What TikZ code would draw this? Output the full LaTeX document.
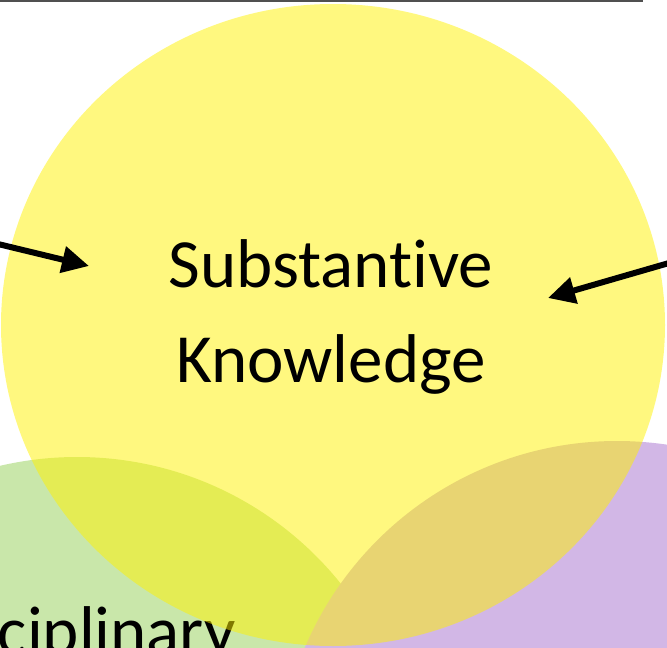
\documentclass[tikz,border=0pt]{standalone}
\usepackage{fontspec}
\setmainfont{Carlito}[Ligatures=NoCommon]
\usetikzlibrary{arrows.meta}
\usetikzlibrary{positioning}
\definecolor{discgreen}{RGB}{201,231,170}
\definecolor{skillpurple}{RGB}{210,183,230}
\definecolor{rulegray}{RGB}{80,80,80}

\begin{document}
\begin{tikzpicture}[x=1pt,y=-1pt]
\tikzset{knowarrow/.style={line width=6pt,-{Triangle[length=27pt,width=26pt]}},
bigtext/.style={font=\fontsize{69}{95}\selectfont,align=center,inner sep=0pt}}
\useasboundingbox (0,0) rectangle (667,648);
\clip (0,0) rectangle (667,648);
\fill[discgreen] (77,795) circle (338pt);
\fill[skillpurple] (617,780) circle (339pt);
\node[bigtext,anchor=base east](disc) at (236,654){Disciplinary};
\fill[yellow,fill opacity=0.5] (333,325) ellipse (332pt and 321pt);
\draw[rulegray,line width=1.5pt] (0,1) -- (643,1);
\node[bigtext,anchor=base](subst) at (331,382){Substantive\\Knowledge};
\coordinate (leftsrc) at (-2,244);
\coordinate (lefttip) at (89,266);
\coordinate (rightsrc) at (669,263);
\coordinate (righttip) at (548,298);
\draw[knowarrow] (leftsrc) -- (lefttip);
\draw[knowarrow] (rightsrc) -- (righttip);
\end{tikzpicture}
\end{document}
